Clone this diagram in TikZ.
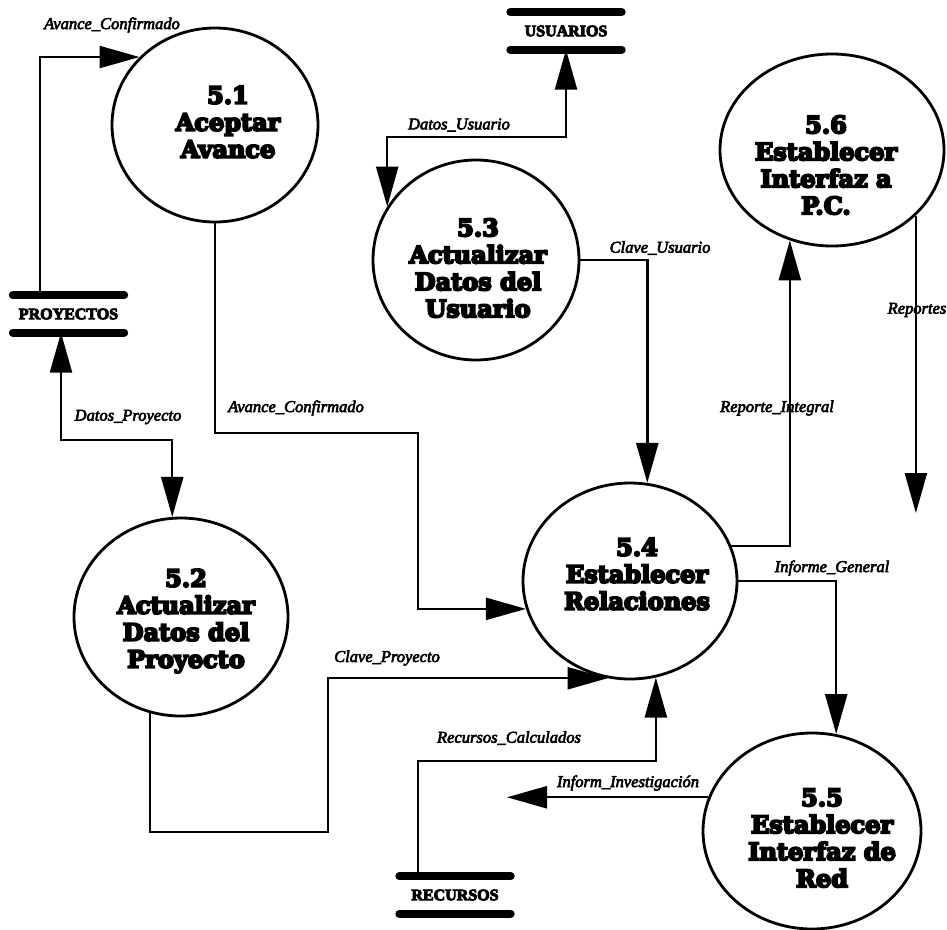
\documentclass[tikz,border=0pt]{standalone}
\usepackage{fontspec}
\usetikzlibrary{arrows.meta,shapes.geometric}
\newfontfamily\procfont{DejaVu Serif}
\newfontfamily\flowfont{Liberation Serif}
\newfontfamily\storefont{Liberation Serif}
% heavier glyphs: fill and stroke the outlines
\newcommand\strokedtext[2]{\special{pdf:literal direct 2 Tr #1 w}#2\special{pdf:literal direct 0 Tr}}
\newcommand\procline[1]{\strokedtext{1.9}{#1}}
\newcommand\flowline[1]{\strokedtext{0.6}{#1}}
\newcommand\storeline[1]{\strokedtext{0.9}{#1}}

\begin{document}
\begin{tikzpicture}[x=1pt,y=-1pt,
  >={Triangle[length=40pt,width=22pt]},
  proc/.style={ellipse, draw, line width=2.8pt, inner sep=0pt},
  ptitle/.style={align=center, inner sep=0pt,
    font=\procfont\bfseries\fontsize{24}{27}\selectfont},
  store/.style={rectangle, minimum width=111pt, minimum height=37pt, inner sep=0pt,
    font=\storefont\bfseries\fontsize{16}{18}\selectfont},
  bar/.style={line width=8pt, line cap=round},
  flow/.style={line width=2.4pt},
  lbl/.style={inner sep=0pt, font=\flowfont\itshape\fontsize{16.5}{18}\selectfont}
]
\useasboundingbox[fill=white] (0,0) rectangle (947,929);

% processes
\node[proc, minimum width=206pt, minimum height=194pt] (p51) at (215,125) {};
\node[proc, minimum width=214pt, minimum height=198pt] (p52) at (181,617) {};
\node[proc, minimum width=206pt, minimum height=200pt] (p53) at (476,260) {};
\node[proc, minimum width=214pt, minimum height=196pt] (p54) at (630,581) {};
\node[proc, minimum width=218pt, minimum height=196pt] (p55) at (812,831) {};
\node[proc, minimum width=224pt, minimum height=192pt] (p56) at (832,150) {};

\node[ptitle] (t51) at (228,122) {\procline{5.1}\\\procline{Aceptar}\\\procline{Avance}};
\node[ptitle] (t52) at (186,621) {\procline{5.2}\\\procline{Actualizar}\\\procline{Datos del}\\\procline{Proyecto}};
\node[ptitle] (t53) at (478,268) {\procline{5.3}\\\procline{Actualizar}\\\procline{Datos del}\\\procline{Usuario}};
\node[ptitle] (t54) at (637,574) {\procline{5.4}\\\procline{Establecer}\\\procline{Relaciones}};
\node[ptitle] (t55) at (822,838) {\procline{5.5}\\\procline{Establecer}\\\procline{Interfaz de}\\\procline{Red}};
\node[ptitle] (t56) at (826,165) {\procline{5.6}\\\procline{Establecer}\\\procline{Interfaz a}\\\procline{P.C.}};

% data stores
\node[store] (sU) at (566,31) {\storeline{USUARIOS}};
\node[store] (sP) at (68.5,314) {\storeline{PROYECTOS}};
\node[store] (sR) at (455,895) {\storeline{RECURSOS}};
\foreach \s in {sU,sP,sR} {
  \draw[bar] (\s.north west) -- (\s.north east);
  \draw[bar] (\s.south west) -- (\s.south east);
}

% free ends
\coordinate (repEnd) at (916,513);
\coordinate (invEnd) at (507,797);

% data flows
\draw[flow,->] (sP.north -| 40,0) |- (p51.138);
\draw[flow,->] (p51.south) |- (418,433) |- (p54.195);
\draw[flow,<->] (sU.south) -- (sU.south |- 0,137) -| (p53.149);
\draw[flow,->] (p53.east) -| (p54.80);
\draw[flow,<->] (sP.south -| 61,0) -- (61,440) -| (p52.95);
\draw[flow,->] (p52.252) |- (328,832) |- (p54.257);
\draw[flow,->] (sR.north -| 418,0) -- (418,761) -| (p54.285);
\draw[flow,->] (p54.east) -| (p55.76);
\draw[flow,->] (p54.19) -| (p56.245);
\draw[flow,->] (p56.322) -- (p56.322 |- repEnd);
\draw[flow,->] (p55.162) -- (p55.162 -| invEnd);

% flow labels
\node[lbl] (l1) at (112,25) {\flowline{Avance\_Confirmado}};
\node[lbl] (l2) at (459,125) {\flowline{Datos\_Usuario}};
\node[lbl] (l3) at (660,248) {\flowline{Clave\_Usuario}};
\node[lbl] (l4) at (917,310) {\flowline{Reportes}};
\node[lbl] (l5) at (128,417) {\flowline{Datos\_Proyecto}};
\node[lbl] (l6) at (296,408) {\flowline{Avance\_Confirmado}};
\node[lbl] (l7) at (777,408) {\flowline{Reporte\_Integral}};
\node[lbl] (l8) at (832,568) {\flowline{Informe\_General}};
\node[lbl] (l9) at (387,658) {\flowline{Clave\_Proyecto}};
\node[lbl] (l10) at (509,738) {\flowline{Recursos\_Calculados}};
\node[lbl] (l11) at (628,783) {\flowline{Inform\_Investigación}};
\end{tikzpicture}
\end{document}
